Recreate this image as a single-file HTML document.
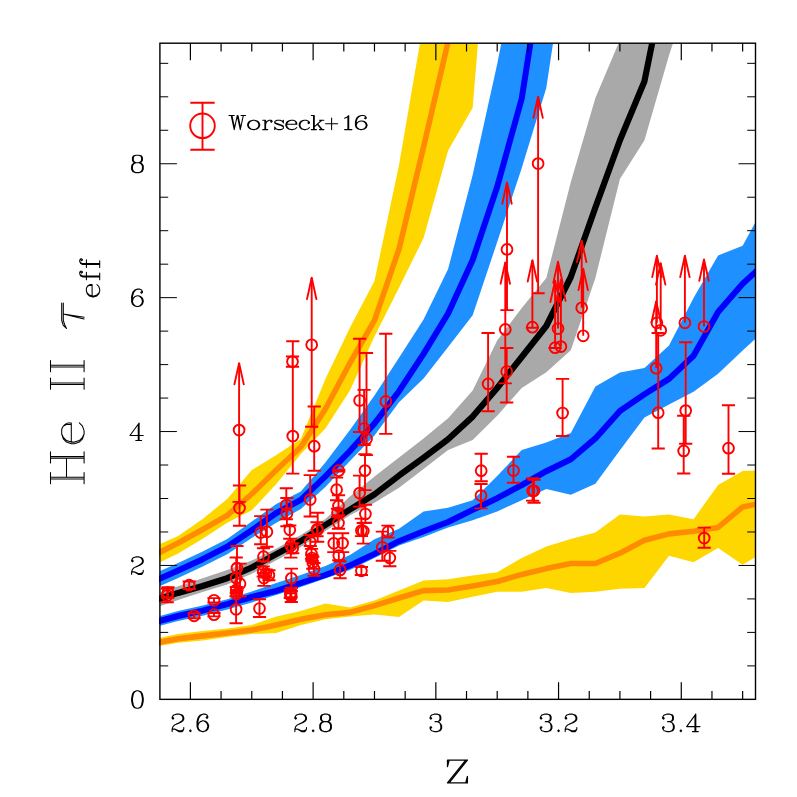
<!DOCTYPE html>
<html><head><meta charset="utf-8"><title>He II effective optical depth</title>
<style>html,body{margin:0;padding:0;background:#fff;font-family:"Liberation Sans",sans-serif;}svg{display:block}</style></head><body>
<svg width="797" height="797" viewBox="0 0 797 797">
<rect width="797" height="797" fill="#fff"/>
<defs><clipPath id="c"><rect x="159.1" y="43.2" width="596.8" height="656.15"/></clipPath>
<clipPath id="cb"><rect x="159.9" y="43.2" width="595.6" height="656.15"/></clipPath></defs>
<polygon clip-path="url(#cb)" fill="#FFD700" points="153.58,547 178.13,536 202.67,519 227.22,499 251.76,470 276.3,455 300.85,439 325.39,379 349.94,327.8 374.48,281 399.02,165 423.57,22 448.11,-150 472.66,-300 497.2,-500 497.2,-191 472.66,107.8 448.11,150.4 423.57,238 399.02,287.7 374.48,336.5 349.94,390.5 325.39,428.6 300.85,454 276.3,484 251.76,510.3 227.22,522.7 202.67,538.8 178.13,553.5 153.58,565.5"/>
<polyline clip-path="url(#c)" fill="none" stroke="#FF8C00" stroke-width="5.6" stroke-linejoin="round" points="153.58,555.5 178.13,543 202.67,529.5 227.22,515.3 251.76,494 276.3,470 300.85,447 325.39,409 349.94,363 374.48,320.3 399.02,249 423.57,146.8 448.11,41.7 472.66,-60 497.2,-300"/>
<polygon clip-path="url(#cb)" fill="#FFD700" points="153.58,639 178.13,634 202.67,631 227.22,628.4 251.76,625 276.3,616.6 300.85,611 325.39,603.6 349.94,607.5 374.48,600.6 399.02,590.6 423.57,580.5 448.11,579.3 472.66,575.5 497.2,572.2 521.74,558 546.29,546.6 570.83,539 595.38,532.6 619.92,514.6 644.46,516.4 669.01,514.6 693.55,519.2 718.1,485 742.64,470.9 767.18,470 767.18,550 742.64,564.7 718.1,548 693.55,562.2 669.01,555.7 644.46,587.9 619.92,588.7 595.38,591.7 570.83,593 546.29,588 521.74,591.8 497.2,591.8 472.66,596.8 448.11,601.9 423.57,600.6 399.02,617 374.48,614.4 349.94,616.6 325.39,619.3 300.85,624.9 276.3,633 251.76,634 227.22,637 202.67,640.6 178.13,642.8 153.58,647"/>
<polyline clip-path="url(#c)" fill="none" stroke="#FF8C00" stroke-width="5.6" stroke-linejoin="round" points="153.58,643.5 178.13,638.7 202.67,635.9 227.22,633 251.76,630 276.3,624.9 300.85,619.3 325.39,614.7 349.94,612.4 374.48,605.6 399.02,598 423.57,590.6 448.11,590 472.66,586 497.2,581.5 521.74,574.4 546.29,568.6 570.83,563.5 595.38,563.5 619.92,553.2 644.46,540.3 669.01,533.9 693.55,531.3 718.1,527.4 742.64,506.9 767.18,502"/>
<polygon clip-path="url(#cb)" fill="#1E90FF" points="153.58,574 178.13,563 202.67,551.5 227.22,539 251.76,521.5 276.3,504 300.85,491.5 325.39,462.5 349.94,430 374.48,395.5 399.02,357.7 423.57,319.5 448.11,269 472.66,175 497.2,64 521.74,-60 546.29,-200 570.83,-400 570.83,-75 546.29,88 521.74,168 497.2,242 472.66,315.3 448.11,347 423.57,378.5 399.02,402.3 374.48,435.6 349.94,461 325.39,487.1 300.85,509 276.3,522.7 251.76,538 227.22,554.2 202.67,566.5 178.13,578 153.58,589"/>
<polyline clip-path="url(#c)" fill="none" stroke="#0000FF" stroke-width="6" stroke-linejoin="round" points="153.58,581.5 178.13,570.5 202.67,559.2 227.22,546.7 251.76,530.3 276.3,513 300.85,499.8 325.39,476.3 349.94,451 374.48,423.5 399.02,391.2 423.57,353.9 448.11,313.5 472.66,260 497.2,186.7 521.74,98.5 546.29,-58 570.83,-250"/>
<polygon clip-path="url(#cb)" fill="#1E90FF" points="153.58,617.6 178.13,611 202.67,605.6 227.22,599.2 251.76,591.6 276.3,583 300.85,575 325.39,566 349.94,555 374.48,539.2 399.02,528.8 423.57,511.5 448.11,507.8 472.66,500.2 497.2,476 521.74,450 546.29,442.5 570.83,432.9 595.38,386.6 619.92,372.5 644.46,368 669.01,345.5 693.55,297.9 718.1,255.4 742.64,245.8 767.18,200.7 767.18,328 742.64,350.6 718.1,373.7 693.55,391.7 669.01,404.6 644.46,417.5 619.92,450.3 595.38,483.7 570.83,494.8 546.29,489 521.74,500.2 497.2,511.5 472.66,520.3 448.11,527.5 423.57,537 399.02,545.4 374.48,558 349.94,570 325.39,578.5 300.85,587 276.3,595 251.76,602.4 227.22,609.6 202.67,615.8 178.13,621 153.58,627.5"/>
<polyline clip-path="url(#c)" fill="none" stroke="#0000FF" stroke-width="6" stroke-linejoin="round" points="153.58,622.6 178.13,616 202.67,610.6 227.22,604.2 251.76,597 276.3,590.8 300.85,583 325.39,575 349.94,565.5 374.48,553.9 399.02,541.2 423.57,531.2 448.11,522 472.66,509.9 497.2,498.2 521.74,485.2 546.29,471.2 570.83,459.3 595.38,438.4 619.92,411 644.46,394.3 669.01,378.9 693.55,355.7 718.1,312 742.64,283.7 767.18,261.4"/>
<polygon clip-path="url(#cb)" fill="#A9A9A9" points="153.58,593.8 178.13,586.3 202.67,578.2 227.22,570 251.76,560.6 276.3,548.6 300.85,535 325.39,519 349.94,496.5 374.48,476.4 399.02,457.6 423.57,438.5 448.11,418.2 472.66,390.6 497.2,340.4 521.74,308 546.29,278 570.83,182 595.38,97.9 619.92,40 644.46,-40 669.01,-150 693.55,-300 693.55,-20 669.01,55.4 644.46,140.3 619.92,178.9 595.38,278 570.83,350.3 546.29,372.2 521.74,388 497.2,415.7 472.66,440 448.11,450 423.57,468.9 399.02,487.7 374.48,502.7 349.94,515.3 325.39,531 300.85,547 276.3,560.2 251.76,573.8 227.22,584.5 202.67,592 178.13,599.9 153.58,608.5"/>
<polyline clip-path="url(#c)" fill="none" stroke="#000" stroke-width="6.2" stroke-linejoin="round" points="153.58,600.5 178.13,592.9 202.67,586 227.22,578.2 251.76,567.5 276.3,554.1 300.85,541 325.39,525 349.94,509.5 374.48,494.4 399.02,475.6 423.57,457.8 448.11,439.2 472.66,416.6 497.2,388 521.74,357 546.29,326 570.83,277 595.38,207.5 619.92,140.3 644.46,81.2 669.01,-40 693.55,-150"/>
<g stroke="#000" stroke-width="1.4" fill="none" stroke-linecap="butt">
<rect x="159.9" y="43.2" width="595.6" height="656.15"/>
</g>
<path stroke="#000" stroke-width="1.2" fill="none" d="M190.4 699.35v-17M190.4 43.2v17M221.08 699.35v-8.3M221.08 43.2v8.3M251.76 699.35v-8.3M251.76 43.2v8.3M282.44 699.35v-8.3M282.44 43.2v8.3M313.12 699.35v-17M313.12 43.2v17M343.8 699.35v-8.3M343.8 43.2v8.3M374.48 699.35v-8.3M374.48 43.2v8.3M405.16 699.35v-8.3M405.16 43.2v8.3M435.84 699.35v-17M435.84 43.2v17M466.52 699.35v-8.3M466.52 43.2v8.3M497.2 699.35v-8.3M497.2 43.2v8.3M527.88 699.35v-8.3M527.88 43.2v8.3M558.56 699.35v-17M558.56 43.2v17M589.24 699.35v-8.3M589.24 43.2v8.3M619.92 699.35v-8.3M619.92 43.2v8.3M650.6 699.35v-8.3M650.6 43.2v8.3M681.28 699.35v-17M681.28 43.2v17M711.96 699.35v-8.3M711.96 43.2v8.3M742.64 699.35v-8.3M742.64 43.2v8.3"/>
<path stroke="#000" stroke-width="1" fill="none" d="M159.9 665.88h8.3M755.5 665.88h-8.3M159.9 632.4h8.3M755.5 632.4h-8.3M159.9 598.92h8.3M755.5 598.92h-8.3M159.9 565.45h17M755.5 565.45h-17M159.9 531.98h8.3M755.5 531.98h-8.3M159.9 498.5h8.3M755.5 498.5h-8.3M159.9 465.02h8.3M755.5 465.02h-8.3M159.9 431.55h17M755.5 431.55h-17M159.9 398.07h8.3M755.5 398.07h-8.3M159.9 364.6h8.3M755.5 364.6h-8.3M159.9 331.12h8.3M755.5 331.12h-8.3M159.9 297.65h17M755.5 297.65h-17M159.9 264.18h8.3M755.5 264.18h-8.3M159.9 230.7h8.3M755.5 230.7h-8.3M159.9 197.23h8.3M755.5 197.23h-8.3M159.9 163.75h17M755.5 163.75h-17M159.9 130.27h8.3M755.5 130.27h-8.3M159.9 96.8h8.3M755.5 96.8h-8.3M159.9 63.33h8.3M755.5 63.33h-8.3"/>
<g fill="none" stroke="#FF0000" stroke-width="1.9" clip-path="url(#cb)">
<path d="M167.2 588.8V602.2M160.6 588.8h13.2M160.6 602.2h13.2M168 587.3V597.7M161.4 587.3h13.2M161.4 597.7h13.2M189.2 581.45V588.95M182.6 581.45h13.2M182.6 588.95h13.2M194.1 613.3V618.3M187.5 613.3h13.2M187.5 618.3h13.2M214 598.1V602.5M207.4 598.1h13.2M207.4 602.5h13.2M214 613V616.4M207.4 613h13.2M207.4 616.4h13.2M239.1 501.9V363.1M232.5 501.9h13.2M239.5 485.5V525.7M232.9 485.5h13.2M232.9 525.7h13.2M237 546V590.1M230.4 546h13.2M230.4 590.1h13.2M236.2 557.5V596.2M229.6 557.5h13.2M229.6 596.2h13.2M240 563.6V596.2M233.4 563.6h13.2M233.4 596.2h13.2M236.3 587V593M229.7 587h13.2M229.7 593h13.2M236.5 591.5V596.5M229.9 591.5h13.2M229.9 596.5h13.2M236.1 596.2V623.3M229.5 596.2h13.2M229.5 623.3h13.2M260.7 516.1V544.3M254.1 516.1h13.2M254.1 544.3h13.2M266.9 509.6V546.8M260.3 509.6h13.2M260.3 546.8h13.2M263.5 548.2V561.4M256.9 548.2h13.2M256.9 561.4h13.2M263.2 566.4V576.4M256.6 566.4h13.2M256.6 576.4h13.2M266 569.5V577.5M259.4 569.5h13.2M259.4 577.5h13.2M268.9 570.2V580.2M262.3 570.2h13.2M262.3 580.2h13.2M264 573V585.9M257.4 573h13.2M257.4 585.9h13.2M259.5 599.2V617M252.9 599.2h13.2M252.9 617h13.2M292.5 356.45V366.75M285.9 356.45h13.2M285.9 366.75h13.2M292.8 341.3V473.6M286.2 341.3h13.2M286.2 473.6h13.2M286.3 488.3V519.3M279.7 488.3h13.2M279.7 519.3h13.2M286.9 498V526.2M280.3 498h13.2M280.3 526.2h13.2M289.8 525.4V538.8M283.2 525.4h13.2M283.2 538.8h13.2M290.8 538.8V557.6M284.2 538.8h13.2M284.2 557.6h13.2M292.7 543.2V553.2M286.1 543.2h13.2M286.1 553.2h13.2M291.4 568.6V587.8M284.8 568.6h13.2M284.8 587.8h13.2M290.3 590V598M283.7 590h13.2M283.7 598h13.2M291.3 591V602M284.7 591h13.2M284.7 602h13.2M290.8 593.3V597.3M284.2 593.3h13.2M284.2 597.3h13.2M311.7 426.8V277.8M305.1 426.8h13.2M314.2 406.5V470.7M307.6 406.5h13.2M307.6 470.7h13.2M310.2 475.1V516.5M303.6 475.1h13.2M303.6 516.5h13.2M317.7 512.8V541.7M311.1 512.8h13.2M311.1 541.7h13.2M317 522.3V536.3M310.4 522.3h13.2M310.4 536.3h13.2M310.3 535V546M303.7 535h13.2M303.7 546h13.2M311.5 548.9V558.9M304.9 548.9h13.2M304.9 558.9h13.2M312 555V561M305.4 555h13.2M305.4 561h13.2M312.8 556.7V568.7M306.2 556.7h13.2M306.2 568.7h13.2M314 563V575.8M307.4 563h13.2M307.4 575.8h13.2M338.7 469.9V471.5M332.1 469.9h13.2M332.1 471.5h13.2M336.6 477.6V500.2M330 477.6h13.2M330 500.2h13.2M338.5 495.2V515.3M331.9 495.2h13.2M331.9 515.3h13.2M337.5 508.8V516.8M330.9 508.8h13.2M330.9 516.8h13.2M338.5 516V528.8M331.9 516h13.2M331.9 528.8h13.2M333.8 533.3V552.1M327.2 533.3h13.2M327.2 552.1h13.2M342.6 533.3V552.1M336 533.3h13.2M336 552.1h13.2M338.8 552.1V560.2M332.2 552.1h13.2M332.2 560.2h13.2M340.1 561.5V578.3M333.5 561.5h13.2M333.5 578.3h13.2M359.6 338.8V432M353 338.8h13.2M353 432h13.2M364.1 389.9V445M357.5 389.9h13.2M357.5 445h13.2M366.5 353V455.1M359.9 353h13.2M359.9 455.1h13.2M365 454.2V490.1M358.4 454.2h13.2M358.4 490.1h13.2M359.6 475.6V506.6M353 475.6h13.2M353 506.6h13.2M365.4 504.8V522.7M358.8 504.8h13.2M358.8 522.7h13.2M361.4 518.6V536.1M354.8 518.6h13.2M354.8 536.1h13.2M363.3 523V543.6M356.7 523h13.2M356.7 543.6h13.2M361.4 567V575M354.8 567h13.2M354.8 575h13.2M385.8 333.8V433.9M379.2 333.8h13.2M379.2 433.9h13.2M388 525.6V537.6M381.4 525.6h13.2M381.4 537.6h13.2M382.3 531.6V560.7M375.7 531.6h13.2M375.7 560.7h13.2M389.8 550.9V566.2M383.2 550.9h13.2M383.2 566.2h13.2M488.1 333V411.3M481.5 333h13.2M481.5 411.3h13.2M481.2 453.8V481.3M474.6 453.8h13.2M474.6 481.3h13.2M481 484V508.4M474.4 484h13.2M474.4 508.4h13.2M507 310.1V182.4M500.4 310.1h13.2M505.3 383.4V262.4M498.7 383.4h13.2M506.7 348V402.5M500.1 348h13.2M500.1 402.5h13.2M513.5 456.8V482.8M506.9 456.8h13.2M506.9 482.8h13.2M538.1 293.3V96.6M531.5 293.3h13.2M532.4 327.7V260.2M525.8 327.7h13.2M532.6 478.3V500.6M526 478.3h13.2M526 500.6h13.2M534 479.8V502.7M527.4 479.8h13.2M527.4 502.7h13.2M558 328.6V261.6M555.1 348V280.7M548.5 348h13.2M560.9 346.6V279.6M562.6 378.9V436M556 378.9h13.2M556 436h13.2M581.7 307.8V240.8M583.2 335.8V268.8M656.9 322.8V255.8M660.7 330.3V263.3M656.2 368.2V301.2M658.2 333V448.5M651.6 333h13.2M651.6 448.5h13.2M684.9 322.8V255.8M685.7 342.3V443.7M679.1 342.3h13.2M679.1 443.7h13.2M683.7 415.8V473.5M677.1 415.8h13.2M677.1 473.5h13.2M704 326.5V259.5M704.2 527.6V547.7M697.6 527.6h13.2M697.6 547.7h13.2M728.5 405.3V473.8M721.9 405.3h13.2M721.9 473.8h13.2"/>
<path stroke-linejoin="round" stroke-linecap="round" d="M234.4 384.4L239.1 363.1L243.8 384.4M307 299.1L311.7 277.8L316.4 299.1M502.3 203.7L507 182.4L511.7 203.7M500.6 283.7L505.3 262.4L510 283.7M533.4 117.9L538.1 96.6L542.8 117.9M527.7 281.5L532.4 260.2L537.1 281.5M553.3 282.9L558 261.6L562.7 282.9M550.4 302L555.1 280.7L559.8 302M556.2 300.9L560.9 279.6L565.6 300.9M577 262.1L581.7 240.8L586.4 262.1M578.5 290.1L583.2 268.8L587.9 290.1M652.2 277.1L656.9 255.8L661.6 277.1M656 284.6L660.7 263.3L665.4 284.6M651.5 322.5L656.2 301.2L660.9 322.5M680.2 277.1L684.9 255.8L689.6 277.1M699.3 280.8L704 259.5L708.7 280.8"/>
<circle cx="167.2" cy="595.5" r="5.4"/><circle cx="168" cy="592.5" r="5.4"/><circle cx="189.2" cy="585.2" r="5.4"/><circle cx="194.1" cy="615.8" r="5.4"/><circle cx="214" cy="600.3" r="5.4"/><circle cx="214" cy="614.7" r="5.4"/><circle cx="239.1" cy="430.1" r="5.4"/><circle cx="239.5" cy="508.1" r="5.4"/><circle cx="237" cy="568.1" r="5.4"/><circle cx="236.2" cy="578.1" r="5.4"/><circle cx="240" cy="583.7" r="5.4"/><circle cx="236.3" cy="590" r="5.4"/><circle cx="236.5" cy="594" r="5.4"/><circle cx="236.1" cy="609.3" r="5.4"/><circle cx="260.7" cy="532.6" r="5.4"/><circle cx="266.9" cy="531.8" r="5.4"/><circle cx="263.5" cy="556.7" r="5.4"/><circle cx="263.2" cy="571.4" r="5.4"/><circle cx="266" cy="573.5" r="5.4"/><circle cx="268.9" cy="575.2" r="5.4"/><circle cx="264" cy="578" r="5.4"/><circle cx="259.5" cy="608.5" r="5.4"/><circle cx="292.5" cy="361.6" r="5.4"/><circle cx="292.8" cy="436.1" r="5.4"/><circle cx="286.3" cy="505.2" r="5.4"/><circle cx="286.9" cy="513.4" r="5.4"/><circle cx="289.8" cy="529.8" r="5.4"/><circle cx="290.8" cy="545.7" r="5.4"/><circle cx="292.7" cy="548.2" r="5.4"/><circle cx="291.4" cy="578.3" r="5.4"/><circle cx="290.3" cy="594" r="5.4"/><circle cx="291.3" cy="596.5" r="5.4"/><circle cx="290.8" cy="595.3" r="5.4"/><circle cx="311.7" cy="344.8" r="5.4"/><circle cx="314.2" cy="446.2" r="5.4"/><circle cx="310.2" cy="499.6" r="5.4"/><circle cx="317.7" cy="529.7" r="5.4"/><circle cx="317" cy="529.4" r="5.4"/><circle cx="310.3" cy="542" r="5.4"/><circle cx="311.5" cy="553.9" r="5.4"/><circle cx="312" cy="558" r="5.4"/><circle cx="312.8" cy="562.7" r="5.4"/><circle cx="314" cy="569" r="5.4"/><circle cx="338.7" cy="470.7" r="5.4"/><circle cx="336.6" cy="489.7" r="5.4"/><circle cx="338.5" cy="505.9" r="5.4"/><circle cx="337.5" cy="512.8" r="5.4"/><circle cx="338.5" cy="523" r="5.4"/><circle cx="333.8" cy="543.3" r="5.4"/><circle cx="342.6" cy="543.1" r="5.4"/><circle cx="338.8" cy="555.6" r="5.4"/><circle cx="340.1" cy="569.9" r="5.4"/><circle cx="359.6" cy="400.5" r="5.4"/><circle cx="364.1" cy="428.5" r="5.4"/><circle cx="366.5" cy="438.9" r="5.4"/><circle cx="365" cy="470.6" r="5.4"/><circle cx="359.6" cy="493.1" r="5.4"/><circle cx="365.4" cy="514" r="5.4"/><circle cx="361.4" cy="530.6" r="5.4"/><circle cx="363.3" cy="531" r="5.4"/><circle cx="361.4" cy="570.8" r="5.4"/><circle cx="385.8" cy="401.4" r="5.4"/><circle cx="388" cy="531.7" r="5.4"/><circle cx="382.3" cy="547.3" r="5.4"/><circle cx="389.8" cy="557.9" r="5.4"/><circle cx="488.1" cy="383.9" r="5.4"/><circle cx="481.2" cy="470.7" r="5.4"/><circle cx="481" cy="495.6" r="5.4"/><circle cx="507" cy="249.4" r="5.4"/><circle cx="505.3" cy="329.4" r="5.4"/><circle cx="506.7" cy="371.5" r="5.4"/><circle cx="513.5" cy="470.5" r="5.4"/><circle cx="538.1" cy="163.6" r="5.4"/><circle cx="532.4" cy="327.2" r="5.4"/><circle cx="532.6" cy="490.8" r="5.4"/><circle cx="534" cy="490.8" r="5.4"/><circle cx="558" cy="328.6" r="5.4"/><circle cx="555.1" cy="347.7" r="5.4"/><circle cx="560.9" cy="346.6" r="5.4"/><circle cx="562.6" cy="413" r="5.4"/><circle cx="581.7" cy="307.8" r="5.4"/><circle cx="583.2" cy="335.8" r="5.4"/><circle cx="656.9" cy="322.8" r="5.4"/><circle cx="660.7" cy="330.3" r="5.4"/><circle cx="656.2" cy="368.2" r="5.4"/><circle cx="658.2" cy="412.7" r="5.4"/><circle cx="684.9" cy="322.8" r="5.4"/><circle cx="685.7" cy="410.6" r="5.4"/><circle cx="683.7" cy="450.9" r="5.4"/><circle cx="704" cy="326.5" r="5.4"/><circle cx="704.2" cy="538.1" r="5.4"/><circle cx="728.5" cy="448.2" r="5.4"/>
</g>
<g fill="none" stroke="#FF0000" stroke-width="1.9">
<circle cx="202.5" cy="125.8" r="12.3"/>
<path d="M202.5 102.7V149.7M190.3 102.7h24.4M190.3 149.7h24.4"/>
</g>
<path fill="none" stroke="#000" stroke-width="1.1" stroke-linecap="round" stroke-linejoin="round" d="M172.97 717.49L173.8 718.32L172.97 719.15L172.14 718.32L172.14 717.49L172.97 715.83L173.8 715L176.29 714.17L179.61 714.17L182.1 715L182.93 715.83L183.76 717.49L183.76 719.15L182.93 720.81L180.44 722.47L176.29 724.13L174.63 724.96L172.97 726.62L172.14 729.11L172.14 731.6M179.61 714.17L181.27 715L182.1 715.83L182.93 717.49L182.93 719.15L182.1 720.81L179.61 722.47L176.29 724.13M172.14 729.94L172.97 729.11L174.63 729.11L178.78 730.77L181.27 730.77L182.93 729.94L183.76 729.11M174.63 729.11L178.78 731.6L182.1 731.6L182.93 730.77L183.76 729.11L183.76 727.45M190.4 729.94L189.57 730.77L190.4 731.6L191.23 730.77L190.4 729.94M207 716.66L206.17 717.49L207 718.32L207.83 717.49L207.83 716.66L207 715L205.34 714.17L202.85 714.17L200.36 715L198.7 716.66L197.87 718.32L197.04 721.64L197.04 726.62L197.87 729.11L199.53 730.77L202.02 731.6L203.68 731.6L206.17 730.77L207.83 729.11L208.66 726.62L208.66 725.79L207.83 723.3L206.17 721.64L203.68 720.81L202.85 720.81L200.36 721.64L198.7 723.3L197.87 725.79M202.85 714.17L201.19 715L199.53 716.66L198.7 718.32L197.87 721.64L197.87 726.62L198.7 729.11L200.36 730.77L202.02 731.6M203.68 731.6L205.34 730.77L207 729.11L207.83 726.62L207.83 725.79L207 723.3L205.34 721.64L203.68 720.81M295.69 717.49L296.52 718.32L295.69 719.15L294.86 718.32L294.86 717.49L295.69 715.83L296.52 715L299.01 714.17L302.33 714.17L304.82 715L305.65 715.83L306.48 717.49L306.48 719.15L305.65 720.81L303.16 722.47L299.01 724.13L297.35 724.96L295.69 726.62L294.86 729.11L294.86 731.6M302.33 714.17L303.99 715L304.82 715.83L305.65 717.49L305.65 719.15L304.82 720.81L302.33 722.47L299.01 724.13M294.86 729.94L295.69 729.11L297.35 729.11L301.5 730.77L303.99 730.77L305.65 729.94L306.48 729.11M297.35 729.11L301.5 731.6L304.82 731.6L305.65 730.77L306.48 729.11L306.48 727.45M313.12 729.94L312.29 730.77L313.12 731.6L313.95 730.77L313.12 729.94M323.91 714.17L321.42 715L320.59 716.66L320.59 719.15L321.42 720.81L323.91 721.64L327.23 721.64L329.72 720.81L330.55 719.15L330.55 716.66L329.72 715L327.23 714.17L323.91 714.17M323.91 714.17L322.25 715L321.42 716.66L321.42 719.15L322.25 720.81L323.91 721.64M327.23 721.64L328.89 720.81L329.72 719.15L329.72 716.66L328.89 715L327.23 714.17M323.91 721.64L321.42 722.47L320.59 723.3L319.76 724.96L319.76 728.28L320.59 729.94L321.42 730.77L323.91 731.6L327.23 731.6L329.72 730.77L330.55 729.94L331.38 728.28L331.38 724.96L330.55 723.3L329.72 722.47L327.23 721.64M323.91 721.64L322.25 722.47L321.42 723.3L320.59 724.96L320.59 728.28L321.42 729.94L322.25 730.77L323.91 731.6M327.23 731.6L328.89 730.77L329.72 729.94L330.55 728.28L330.55 724.96L329.72 723.3L328.89 722.47L327.23 721.64M430.86 717.49L431.69 718.32L430.86 719.15L430.03 718.32L430.03 717.49L430.86 715.83L431.69 715L434.18 714.17L437.5 714.17L439.99 715L440.82 716.66L440.82 719.15L439.99 720.81L437.5 721.64L435.01 721.64M437.5 714.17L439.16 715L439.99 716.66L439.99 719.15L439.16 720.81L437.5 721.64M437.5 721.64L439.16 722.47L440.82 724.13L441.65 725.79L441.65 728.28L440.82 729.94L439.99 730.77L437.5 731.6L434.18 731.6L431.69 730.77L430.86 729.94L430.03 728.28L430.03 727.45L430.86 726.62L431.69 727.45L430.86 728.28M439.99 723.3L440.82 725.79L440.82 728.28L439.99 729.94L439.16 730.77L437.5 731.6M541.13 717.49L541.96 718.32L541.13 719.15L540.3 718.32L540.3 717.49L541.13 715.83L541.96 715L544.45 714.17L547.77 714.17L550.26 715L551.09 716.66L551.09 719.15L550.26 720.81L547.77 721.64L545.28 721.64M547.77 714.17L549.43 715L550.26 716.66L550.26 719.15L549.43 720.81L547.77 721.64M547.77 721.64L549.43 722.47L551.09 724.13L551.92 725.79L551.92 728.28L551.09 729.94L550.26 730.77L547.77 731.6L544.45 731.6L541.96 730.77L541.13 729.94L540.3 728.28L540.3 727.45L541.13 726.62L541.96 727.45L541.13 728.28M550.26 723.3L551.09 725.79L551.09 728.28L550.26 729.94L549.43 730.77L547.77 731.6M558.56 729.94L557.73 730.77L558.56 731.6L559.39 730.77L558.56 729.94M566.03 717.49L566.86 718.32L566.03 719.15L565.2 718.32L565.2 717.49L566.03 715.83L566.86 715L569.35 714.17L572.67 714.17L575.16 715L575.99 715.83L576.82 717.49L576.82 719.15L575.99 720.81L573.5 722.47L569.35 724.13L567.69 724.96L566.03 726.62L565.2 729.11L565.2 731.6M572.67 714.17L574.33 715L575.16 715.83L575.99 717.49L575.99 719.15L575.16 720.81L572.67 722.47L569.35 724.13M565.2 729.94L566.03 729.11L567.69 729.11L571.84 730.77L574.33 730.77L575.99 729.94L576.82 729.11M567.69 729.11L571.84 731.6L575.16 731.6L575.99 730.77L576.82 729.11L576.82 727.45M663.43 717.49L664.26 718.32L663.43 719.15L662.6 718.32L662.6 717.49L663.43 715.83L664.26 715L666.75 714.17L670.07 714.17L672.56 715L673.39 716.66L673.39 719.15L672.56 720.81L670.07 721.64L667.58 721.64M670.07 714.17L671.73 715L672.56 716.66L672.56 719.15L671.73 720.81L670.07 721.64M670.07 721.64L671.73 722.47L673.39 724.13L674.22 725.79L674.22 728.28L673.39 729.94L672.56 730.77L670.07 731.6L666.75 731.6L664.26 730.77L663.43 729.94L662.6 728.28L662.6 727.45L663.43 726.62L664.26 727.45L663.43 728.28M672.56 723.3L673.39 725.79L673.39 728.28L672.56 729.94L671.73 730.77L670.07 731.6M680.86 729.94L680.03 730.77L680.86 731.6L681.69 730.77L680.86 729.94M694.97 715.83L694.97 731.6M695.8 714.17L695.8 731.6M695.8 714.17L686.67 726.62L699.95 726.62M692.48 731.6L698.29 731.6M136.61 690.82L134.12 691.65L132.46 694.14L131.63 698.29L131.63 700.78L132.46 704.93L134.12 707.42L136.61 708.25L138.27 708.25L140.76 707.42L142.42 704.93L143.25 700.78L143.25 698.29L142.42 694.14L140.76 691.65L138.27 690.82L136.61 690.82M136.61 690.82L134.95 691.65L134.12 692.48L133.29 694.14L132.46 698.29L132.46 700.78L133.29 704.93L134.12 706.59L134.95 707.42L136.61 708.25M138.27 708.25L139.93 707.42L140.76 706.59L141.59 704.93L142.42 700.78L142.42 698.29L141.59 694.14L140.76 692.48L139.93 691.65L138.27 690.82M132.46 560.24L133.29 561.07L132.46 561.9L131.63 561.07L131.63 560.24L132.46 558.58L133.29 557.75L135.78 556.92L139.1 556.92L141.59 557.75L142.42 558.58L143.25 560.24L143.25 561.9L142.42 563.56L139.93 565.22L135.78 566.88L134.12 567.71L132.46 569.37L131.63 571.86L131.63 574.35M139.1 556.92L140.76 557.75L141.59 558.58L142.42 560.24L142.42 561.9L141.59 563.56L139.1 565.22L135.78 566.88M131.63 572.69L132.46 571.86L134.12 571.86L138.27 573.52L140.76 573.52L142.42 572.69L143.25 571.86M134.12 571.86L138.27 574.35L141.59 574.35L142.42 573.52L143.25 571.86L143.25 570.2M138.27 424.68L138.27 440.45M139.1 423.02L139.1 440.45M139.1 423.02L129.97 435.47L143.25 435.47M135.78 440.45L141.59 440.45M141.59 291.61L140.76 292.44L141.59 293.27L142.42 292.44L142.42 291.61L141.59 289.95L139.93 289.12L137.44 289.12L134.95 289.95L133.29 291.61L132.46 293.27L131.63 296.59L131.63 301.57L132.46 304.06L134.12 305.72L136.61 306.55L138.27 306.55L140.76 305.72L142.42 304.06L143.25 301.57L143.25 300.74L142.42 298.25L140.76 296.59L138.27 295.76L137.44 295.76L134.95 296.59L133.29 298.25L132.46 300.74M137.44 289.12L135.78 289.95L134.12 291.61L133.29 293.27L132.46 296.59L132.46 301.57L133.29 304.06L134.95 305.72L136.61 306.55M138.27 306.55L139.93 305.72L141.59 304.06L142.42 301.57L142.42 300.74L141.59 298.25L139.93 296.59L138.27 295.76M135.78 155.22L133.29 156.05L132.46 157.71L132.46 160.2L133.29 161.86L135.78 162.69L139.1 162.69L141.59 161.86L142.42 160.2L142.42 157.71L141.59 156.05L139.1 155.22L135.78 155.22M135.78 155.22L134.12 156.05L133.29 157.71L133.29 160.2L134.12 161.86L135.78 162.69M139.1 162.69L140.76 161.86L141.59 160.2L141.59 157.71L140.76 156.05L139.1 155.22M135.78 162.69L133.29 163.52L132.46 164.35L131.63 166.01L131.63 169.33L132.46 170.99L133.29 171.82L135.78 172.65L139.1 172.65L141.59 171.82L142.42 170.99L143.25 169.33L143.25 166.01L142.42 164.35L141.59 163.52L139.1 162.69M135.78 162.69L134.12 163.52L133.29 164.35L132.46 166.01L132.46 169.33L133.29 170.99L134.12 171.82L135.78 172.65M139.1 172.65L140.76 171.82L141.59 170.99L142.42 169.33L142.42 166.01L141.59 164.35L140.76 163.52L139.1 162.69"/>
<path fill="none" stroke="#000" stroke-width="1.25" stroke-linecap="round" stroke-linejoin="round" d="M465.75 760.08L447.49 782.9M467.41 760.08L449.15 782.9M449.15 760.08L447.49 766.6L447.49 760.08L467.41 760.08M447.49 782.9L467.41 782.9L467.41 776.38L465.75 782.9"/>
<path fill="none" stroke="#000" stroke-width="1.05" stroke-linecap="round" stroke-linejoin="round" d="M50.5 478.9L84.1 478.9M50.5 477.3L84.1 477.3M50.5 458.1L84.1 458.1M50.5 456.5L84.1 456.5M50.5 483.7L50.5 472.5M50.5 462.9L50.5 451.7M66.5 477.3L66.5 458.1M84.1 483.7L84.1 472.5M84.1 462.9L84.1 451.7M71.3 442.1L71.3 422.9L68.1 422.9L64.9 424.5L63.3 426.1L61.7 429.3L61.7 434.1L63.3 438.9L66.5 442.1L71.3 443.7L74.5 443.7L79.3 442.1L82.5 438.9L84.1 434.1L84.1 430.9L82.5 426.1L79.3 422.9M71.3 424.5L66.5 424.5L63.3 426.1M61.7 434.1L63.3 437.3L66.5 440.5L71.3 442.1L74.5 442.1L79.3 440.5L82.5 437.3L84.1 434.1M50.5 384.5L84.1 384.5M50.5 382.9L84.1 382.9M50.5 389.3L50.5 378.1M84.1 389.3L84.1 378.1M50.5 366.9L84.1 366.9M50.5 365.3L84.1 365.3M50.5 371.7L50.5 360.5M84.1 371.7L84.1 360.5M63.3 314.1L84.1 318.9M63.3 314.1L84.1 317.3M66.5 328.5L63.3 325.3L61.7 320.5L61.7 302.9M66.5 328.5L64.9 325.3L63.3 320.5L63.3 302.9M92.1 295.9L92.1 284.5L90.2 284.5L88.3 285.45L87.35 286.4L86.4 288.3L86.4 291.15L87.35 294L89.25 295.9L92.1 296.85L94 296.85L96.85 295.9L98.75 294L99.7 291.15L99.7 289.25L98.75 286.4L96.85 284.5M92.1 285.45L89.25 285.45L87.35 286.4M86.4 291.15L87.35 293.05L89.25 294.95L92.1 295.9L94 295.9L96.85 294.95L98.75 293.05L99.7 291.15M80.7 272.15L81.65 273.1L82.6 272.15L81.65 271.2L80.7 271.2L79.75 272.15L79.75 274.05L80.7 275.95L82.6 276.9L99.7 276.9M79.75 274.05L80.7 275L82.6 275.95L99.7 275.95M86.4 279.75L86.4 272.15M99.7 279.75L99.7 273.1M80.7 259.8L81.65 260.75L82.6 259.8L81.65 258.85L80.7 258.85L79.75 259.8L79.75 261.7L80.7 263.6L82.6 264.55L99.7 264.55M79.75 261.7L80.7 262.65L82.6 263.6L99.7 263.6M86.4 267.4L86.4 259.8M99.7 267.4L99.7 260.75"/>
<path fill="none" stroke="#000" stroke-width="1.05" stroke-linecap="round" stroke-linejoin="round" d="M231.2 115.59L234.22 129.6M231.95 115.59L234.22 126.27M237.25 115.59L234.22 129.6M237.25 115.59L240.28 129.6M238.01 115.59L240.28 126.27M243.3 115.59L240.28 129.6M228.93 115.59L234.22 115.59M241.03 115.59L245.57 115.59M252.79 120.26L250.21 120.93L248.49 122.26L247.62 124.26L247.62 125.6L248.49 127.6L250.21 128.93L252.79 129.6L254.51 129.6L257.09 128.93L258.81 127.6L259.68 125.6L259.68 124.26L258.81 122.26L257.09 120.93L254.51 120.26L252.79 120.26M252.79 120.26L251.07 120.93L249.35 122.26L248.49 124.26L248.49 125.6L249.35 127.6L251.07 128.93L252.79 129.6M254.51 129.6L256.23 128.93L257.95 127.6L258.81 125.6L258.81 124.26L257.95 122.26L256.23 120.93L254.51 120.26M264.88 120.26L264.88 129.6M265.6 120.26L265.6 129.6M265.6 124.26L266.32 122.26L267.76 120.93L269.2 120.26L271.36 120.26L272.07 120.93L272.07 121.6L271.36 122.26L270.64 121.6L271.36 120.93M262.72 120.26L265.6 120.26M262.72 129.6L267.76 129.6M282.59 121.6L283.37 120.26L283.37 122.93L282.59 121.6L281.8 120.93L280.23 120.26L277.08 120.26L275.51 120.93L274.72 121.6L274.72 122.93L275.51 123.6L277.08 124.26L281.02 125.6L282.59 126.27L283.37 126.93M274.72 122.26L275.51 122.93L277.08 123.6L281.02 124.93L282.59 125.6L283.37 126.27L283.37 128.27L282.59 128.93L281.02 129.6L277.87 129.6L276.3 128.93L275.51 128.27L274.72 126.93L274.72 129.6L275.51 128.27M286.67 124.26L296.77 124.26L296.77 122.93L295.93 121.6L295.09 120.93L293.41 120.26L290.88 120.26L288.35 120.93L286.67 122.26L285.82 124.26L285.82 125.6L286.67 127.6L288.35 128.93L290.88 129.6L292.56 129.6L295.09 128.93L296.77 127.6M295.93 124.26L295.93 122.26L295.09 120.93M290.88 120.26L289.19 120.93L287.51 122.26L286.67 124.26L286.67 125.6L287.51 127.6L289.19 128.93L290.88 129.6M308.69 122.26L307.9 122.93L308.69 123.6L309.47 122.93L309.47 122.26L307.9 120.93L306.32 120.26L303.96 120.26L301.59 120.93L300.01 122.26L299.22 124.26L299.22 125.6L300.01 127.6L301.59 128.93L303.96 129.6L305.53 129.6L307.9 128.93L309.47 127.6M303.96 120.26L302.38 120.93L300.8 122.26L300.01 124.26L300.01 125.6L300.8 127.6L302.38 128.93L303.96 129.6M313.54 115.59L313.54 129.6M314.28 115.59L314.28 129.6M321.66 120.26L314.28 126.93M317.97 124.26L322.4 129.6M317.23 124.26L321.66 129.6M311.32 115.59L314.28 115.59M319.45 120.26L323.87 120.26M311.32 129.6L316.49 129.6M319.45 129.6L323.87 129.6M325.6 123.7H337.7M331.6 118V129.6M344.62 118.26L346.26 117.59L348.71 115.59L348.71 129.6M347.89 116.26L347.89 129.6M344.62 129.6L351.97 129.6M365.41 117.59L364.58 118.26L365.41 118.93L366.24 118.26L366.24 117.59L365.41 116.26L363.75 115.59L361.25 115.59L358.75 116.26L357.09 117.59L356.26 118.93L355.42 121.6L355.42 125.6L356.26 127.6L357.92 128.93L360.42 129.6L362.08 129.6L364.58 128.93L366.24 127.6L367.08 125.6L367.08 124.93L366.24 122.93L364.58 121.6L362.08 120.93L361.25 120.93L358.75 121.6L357.09 122.93L356.26 124.93M361.25 115.59L359.59 116.26L357.92 117.59L357.09 118.93L356.26 121.6L356.26 125.6L357.09 127.6L358.75 128.93L360.42 129.6M362.08 129.6L363.75 128.93L365.41 127.6L366.24 125.6L366.24 124.93L365.41 122.93L363.75 121.6L362.08 120.93"/>
</svg></body></html>
